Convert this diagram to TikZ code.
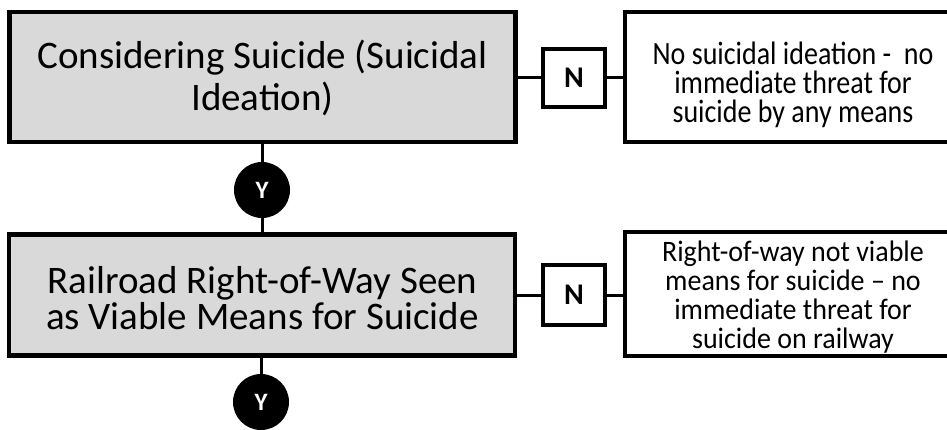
\documentclass[tikz,border=0pt]{standalone}
\usepackage{fontspec}
\setmainfont{Carlito}
\definecolor{boxgray}{HTML}{D9D9D9}
\lineskiplimit=-100pt
\newcommand{\stretchtxt}[3]{\scalebox{1}[#1]{\parbox{330pt}{\centering\fontsize{28}{#2}\selectfont #3}}}
\begin{document}
\begin{tikzpicture}[x=1pt,y=-1pt,
  mainbox/.style={draw=black, line width=4.5pt, fill=boxgray, minimum width=506pt, inner sep=0pt},
  outbox/.style={draw=black, line width=4.5pt, fill=white, minimum width=336pt, inner sep=0pt},
  maintext/.style={inner sep=0pt, align=center},
  outtext/.style={inner sep=0pt},
  nbox/.style={draw=black, line width=4pt, fill=white, minimum width=62pt, minimum height=58pt, inner sep=0pt, font=\fontsize{30}{30}\selectfont\bfseries},
  ycirc/.style={circle, fill=black, minimum size=56pt, inner sep=0pt, text=white, font=\fontsize{25}{25}\selectfont\bfseries},
  conn/.style={line width=3pt}]
\useasboundingbox (0,0) rectangle (947,429);
\node[mainbox, minimum height=130pt] (b1) at (262.5,77) {};
\node[maintext, font=\fontsize{39}{42}\selectfont] (b1t) at (262.5,77.5) {Considering Suicide (Suicidal\\Ideation)};
\node[mainbox, minimum height=121pt] (b2) at (262,295) {};
\node[maintext, font=\fontsize{39}{36}\selectfont] (b2t) at (262.5,298) {Railroad Right-of-Way Seen\\as Viable Means for Suicide};
\node[outbox, minimum height=130pt] (o1) at (793,77) {};
\node[outtext] (o1t) at (793,85) {\stretchtxt{1.16}{25}{No suicidal ideation -\ \ no\\immediate threat for\\suicide by any means}};
\node[outbox, minimum height=124pt] (o2) at (793,294) {};
\node[outtext] (o2t) at (793,297) {\stretchtxt{1.06}{27.5}{Right-of-way not viable\\means for suicide -- no\\immediate threat for\\suicide on railway}};
\node[nbox] (n1) at (574,77.5) {N};
\node[nbox, minimum height=60pt] (n2) at (574,295) {N};
\node[ycirc] (y1) at (262,190) {Y};
\node[ycirc] (y2) at (261,402) {Y};
\coordinate (end) at (261,435);
\draw[conn] (b1.east |- n1.west) -- (n1.west);
\draw[conn] (n1.east) -- (o1.west |- n1.east);
\draw[conn] (b2.east |- n2.west) -- (n2.west);
\draw[conn] (n2.east) -- (o2.west |- n2.east);
\draw[conn] (y1 |- b1.south) -- (y1.north);
\draw[conn] (y1.south) -- (y1 |- b2.north);
\draw[conn] (y2 |- b2.south) -- (y2.north);
\draw[conn] (y2.south) -- (end);
\end{tikzpicture}
\end{document}
